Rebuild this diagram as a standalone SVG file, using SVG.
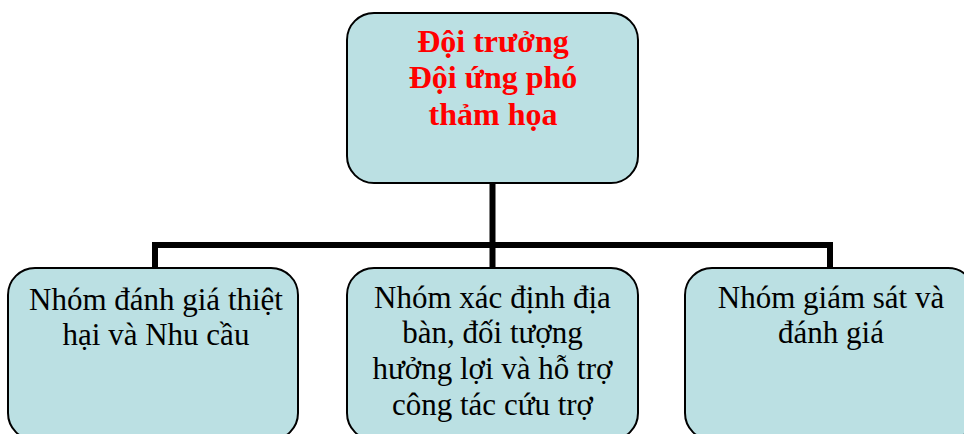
<svg xmlns="http://www.w3.org/2000/svg" width="964" height="434" viewBox="0 0 964 434">
<style>
.box{fill:#BBE0E3;stroke:#000;stroke-width:2}
.conn{fill:none;stroke:#000;stroke-width:6;stroke-linejoin:miter}
.t{font-family:"Liberation Serif","Times New Roman",serif;font-size:31px;fill:#000;text-anchor:middle}
.h{font-family:"Liberation Serif","Times New Roman",serif;font-size:32px;font-weight:bold;fill:#FF0000;text-anchor:middle}
</style>
<rect width="964" height="434" fill="#fff"/>
<g id="connectors">
<path class="conn" d="M492.5 183 V245"/>
<path class="conn" d="M155 268 V245 H830 V268"/>
<path class="conn" d="M492.5 245 V268"/>
</g>
<g id="top">
<rect class="box" x="347" y="13" width="291" height="170" rx="27"/>
<text class="h" x="493" y="52">Đội trưởng</text>
<text class="h" x="493" y="88">Đội ứng phó</text>
<text class="h" x="493" y="125">thảm họa</text>
</g>
<g id="n1">
<rect class="box" x="8" y="268" width="290" height="172" rx="27"/>
<text class="t" x="156" y="310">Nhóm đánh giá thiệt</text>
<text class="t" x="156" y="345">hại và Nhu cầu</text>
</g>
<g id="n2">
<rect class="box" x="347" y="268" width="291" height="172" rx="27"/>
<text class="t" x="492.5" y="308">Nhóm xác định địa</text>
<text class="t" x="492.5" y="343">bàn, đối tượng</text>
<text class="t" x="492.5" y="379">hưởng lợi và hỗ trợ</text>
<text class="t" x="492.5" y="415">công tác cứu trợ</text>
</g>
<g id="n3">
<rect class="box" x="685" y="268" width="290" height="172" rx="27"/>
<text class="t" x="831" y="308">Nhóm giám sát và</text>
<text class="t" x="831" y="343">đánh giá</text>
</g>
</svg>
